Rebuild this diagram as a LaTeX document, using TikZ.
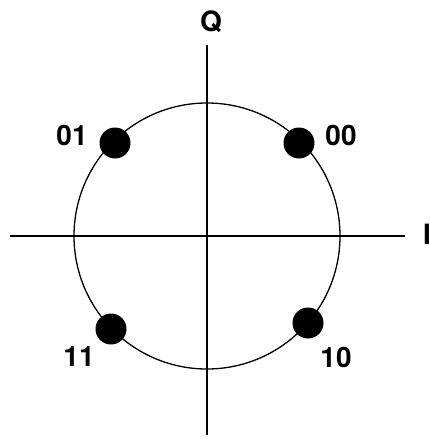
\documentclass[tikz,border=0pt]{standalone}
\usepackage{fontspec}
\setmainfont{TeX Gyre Heros}
\usepackage{tikz}
\usetikzlibrary{positioning, calc}

\begin{document}
\begin{tikzpicture}[
  x=1pt, y=-1pt,
  axis/.style={line width=1.4pt, color=black},
  ring/.style={line width=1.3pt, color=black},
  symbol/.style={circle, fill=black, inner sep=0pt, minimum size=31pt},
  bits/.style={font=\fontsize{28}{32}\selectfont\bfseries, inner sep=0pt},
]
\useasboundingbox (0,0) rectangle (430,439);

% --- Axes ---
\coordinate (o) at (207,236);
\coordinate (iw) at (10,236);
\coordinate (ie) at (405,236);
\coordinate (qn) at (207,45);
\coordinate (qs) at (207,435);
\draw[axis] (iw) -- (ie);
\draw[axis] (qn) -- (qs);
\node[bits] (ilab) at (427,234) {I};
\node[bits] (qlab) at (211,22) {Q};

% --- Circle ---
\draw[ring] (o) circle[radius=133];

% --- Constellation points ---
\node[symbol] (s01) at (115,143) {};
\node[symbol] (s00) at (299,143) {};
\node[symbol] (s11) at (111,329) {};
\node[symbol] (s10) at (308,323) {};

% --- Labels ---
\node[bits] (l01) at (72,135) {01};
\node[bits] (l00) at (341,135) {00};
\node[bits] (l11) at (79,357) {11};
\node[bits] (l10) at (336,357) {10};

\end{tikzpicture}
\end{document}
